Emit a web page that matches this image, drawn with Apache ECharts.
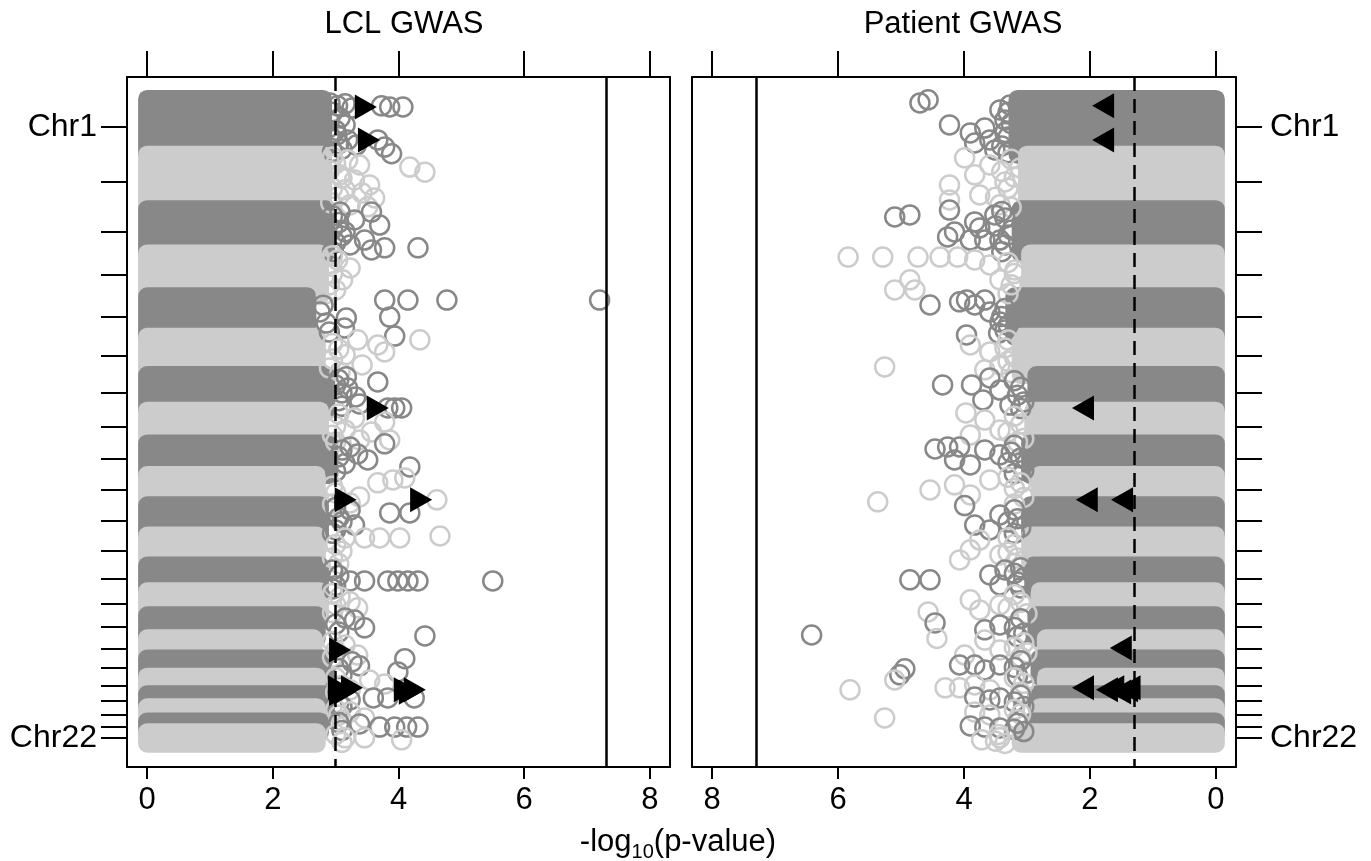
<!DOCTYPE html>
<html>
<head>
<meta charset="utf-8">
<title>LCL GWAS / Patient GWAS</title>
<script src="https://cdn.jsdelivr.net/npm/echarts@6/dist/echarts.min.js"></script>
<style>
html, body { margin: 0; padding: 0; background: #fff; }
#chart { width: 1371px; height: 861px; }
</style>
</head>
<body>
<div id="chart"></div>
<script>
'use strict';

// chromosome sizes in Mb (hg19)
var chromNames = ['Chr1', 'Chr2', 'Chr3', 'Chr4', 'Chr5', 'Chr6', 'Chr7', 'Chr8', 'Chr9', 'Chr10', 'Chr11',
    'Chr12', 'Chr13', 'Chr14', 'Chr15', 'Chr16', 'Chr17', 'Chr18', 'Chr19', 'Chr20', 'Chr21', 'Chr22'];
var chromLengths = [249.25, 243.2, 198.0, 191.2, 180.9, 171.1, 159.1, 146.4, 141.2, 135.5, 135.0,
    133.9, 115.2, 107.3, 102.5, 90.4, 81.2, 78.1, 59.1, 63.0, 48.1, 51.3];

// -log10(p) reached by the dense bulk of SNPs in each chromosome
var lclBulkMax = [2.8, 2.8, 2.85, 2.75, 2.55, 2.7, 2.85, 2.75, 2.9, 2.7, 2.75,
    2.7, 2.75, 2.75, 2.7, 2.65, 2.8, 2.7, 2.85, 2.7, 2.75, 2.7];
var patientBulkMax = [3.15, 3.0, 3.1, 2.95, 3.2, 3.1, 2.85, 2.9, 2.95, 2.8, 2.95,
    2.95, 2.9, 2.8, 2.85, 2.7, 2.8, 2.7, 2.85, 2.8, 2.9, 3.1];

// [chromosome, position Mb, -log10(p)] : SNPs crowding the edge of the bulk
var lclNearBulk = [
    [1, 60, 2.95], [1, 100, 2.9], [1, 140, 3.0], [1, 170, 2.92], [1, 200, 3.05], [1, 235, 2.95],
    [2, 10, 2.95], [2, 40, 3.0], [2, 70, 2.9], [2, 105, 3.1], [2, 150, 2.95], [2, 185, 3.05], [2, 215, 2.92],
    [3, 30, 2.95], [3, 60, 3.05], [3, 90, 2.95], [3, 120, 3.1], [3, 150, 3.0], [3, 190, 2.95],
    [4, 10, 2.95], [4, 45, 2.9], [4, 90, 2.95], [4, 140, 2.9], [4, 180, 2.85],
    [5, 40, 2.8], [5, 70, 2.75], [5, 120, 2.85], [5, 160, 2.9],
    [6, 30, 2.95], [6, 55, 3.05], [6, 100, 2.95], [6, 140, 2.9],
    [7, 20, 3.05], [7, 45, 3.0], [7, 80, 3.1], [7, 115, 3.05], [7, 140, 3.1],
    [8, 15, 3.05], [8, 70, 3.0], [8, 110, 2.95], [8, 140, 3.0],
    [9, 30, 3.1], [9, 60, 3.05], [9, 90, 3.15], [9, 125, 3.0],
    [10, 50, 2.95], [10, 80, 3.0], [10, 130, 2.95],
    [11, 10, 3.0], [11, 55, 3.05], [11, 75, 3.1], [11, 110, 3.0], [11, 125, 2.95],
    [12, 40, 3.0], [12, 70, 3.1], [12, 100, 2.95], [12, 125, 3.05],
    [13, 20, 2.95], [13, 45, 3.05], [13, 90, 3.0], [13, 105, 2.95],
    [14, 10, 2.95], [14, 60, 3.0], [14, 95, 2.95],
    [15, 40, 3.0], [15, 75, 3.05],
    [16, 15, 2.95], [16, 55, 3.0], [16, 85, 2.95],
    [17, 45, 3.05], [17, 75, 3.1],
    [18, 5, 3.0], [18, 40, 3.1], [18, 70, 3.0],
    [19, 40, 3.05], [19, 55, 3.1],
    [20, 10, 3.0], [20, 35, 3.05], [20, 58, 3.1],
    [21, 5, 3.05], [21, 40, 3.1],
    [22, 10, 3.0], [22, 45, 3.1]
];

var lclOutliers = [
    [1, 18, 2.91], [1, 31, 3.03], [1, 22, 3.15], [1, 40, 3.26], [1, 31, 3.73], [1, 36, 3.86], [1, 36, 4.07],
    [1, 85, 3.07], [1, 116, 3.15], [1, 161, 3.02], [1, 183, 3.19], [1, 183, 3.67], [1, 215, 3.78],
    [1, 245, 3.89], [1, 224, 3.1], [1, 206, 3.33],
    [2, 23, 3.19], [2, 46, 3.38], [2, 55, 4.18], [2, 78, 4.42], [2, 90, 3.07], [2, 113, 3.3], [2, 135, 3.54],
    [2, 157, 3.15], [2, 171, 3.42], [2, 193, 3.62], [2, 224, 3.23], [2, 233, 3.51],
    [3, 13, 3.07], [3, 13, 3.57], [3, 48, 3.3], [3, 71, 3.7], [3, 102, 3.15], [3, 138, 3.46], [3, 160, 3.23],
    [3, 173, 3.78], [3, 173, 4.31], [3, 182, 3.57],
    [4, 29, 3.03], [4, 65, 3.23], [4, 118, 3.11], [4, 163, 3.0],
    [5, 17, 3.78], [5, 17, 4.15], [5, 17, 4.77], [5, 17, 7.2], [5, 97, 3.17], [5, 93, 3.86], [5, 142, 3.14],
    [5, 178, 3.94],
    [6, 14, 3.35], [6, 14, 4.34], [6, 37, 3.67], [6, 68, 3.78], [6, 81, 3.15], [6, 126, 3.42], [6, 157, 3.07],
    [7, 8, 3.17], [7, 31, 3.67], [7, 58, 3.19], [7, 98, 3.32], [7, 129, 3.38], [7, 147, 3.94], [7, 147, 4.05],
    [7, 147, 3.83],
    [8, 33, 3.3], [8, 51, 3.78], [8, 86, 3.15], [8, 95, 3.57], [8, 131, 3.38], [8, 131, 3.86],
    [9, 2, 3.78], [9, 16, 3.23], [9, 47, 3.35], [9, 74, 3.51], [9, 105, 4.18],
    [10, 13, 4.1], [10, 22, 3.91], [10, 35, 3.67], [10, 98, 3.38], [10, 111, 4.61], [10, 125, 3.23],
    [11, 21, 3.23], [11, 34, 3.86], [11, 34, 4.18], [11, 88, 3.3],
    [12, 11, 3.15], [12, 11, 3.46], [12, 11, 3.7], [12, 11, 4.02], [12, 2, 4.66],
    [13, 69, 3.23], [13, 69, 3.46], [13, 69, 3.83], [13, 69, 3.99], [13, 69, 4.15], [13, 69, 4.31], [13, 69, 5.5],
    [14, 25, 3.07], [14, 47, 3.23], [14, 74, 3.35],
    [15, 12, 3.15], [15, 21, 3.3], [15, 56, 3.46], [15, 92, 4.42],
    [16, 30, 3.15], [16, 75, 3.35],
    [17, 1, 4.1], [17, 15, 3.26], [17, 33, 3.38], [17, 60, 3.99],
    [18, 15, 3.54], [18, 33, 3.78], [18, 59, 3.23],
    [19, 17, 3.6], [19, 17, 3.83], [19, 17, 4.25], [19, 26, 3.23],
    [20, 20, 3.23], [20, 47, 3.46],
    [21, 11, 3.38], [21, 25, 3.7], [21, 25, 3.94], [21, 25, 4.13], [21, 25, 4.31],
    [22, 25, 3.15], [22, 25, 3.46], [22, 34, 4.05]
];

var patientNearBulk = [
    [1, 60, 3.3], [1, 110, 3.25], [1, 150, 3.35], [1, 170, 3.3], [1, 210, 3.4], [1, 240, 3.3],
    [2, 20, 3.25], [2, 75, 3.4], [2, 100, 3.2], [2, 150, 3.3], [2, 190, 3.5], [2, 235, 3.25],
    [3, 10, 3.4], [3, 40, 3.35], [3, 75, 3.5], [3, 115, 3.3], [3, 160, 3.35], [3, 190, 3.4],
    [4, 40, 3.3], [4, 90, 3.2], [4, 140, 3.25], [4, 180, 3.3],
    [5, 55, 3.35], [5, 90, 3.4], [5, 130, 3.3], [5, 165, 3.45],
    [6, 15, 3.3], [6, 50, 3.35], [6, 90, 3.2], [6, 110, 3.3], [6, 160, 3.25],
    [7, 25, 3.2], [7, 55, 3.1], [7, 90, 3.15], [7, 120, 3.05], [7, 150, 3.1],
    [8, 25, 3.2], [8, 60, 3.1], [8, 95, 3.3], [8, 125, 3.05], [8, 140, 3.15],
    [9, 8, 3.2], [9, 40, 3.25], [9, 65, 3.1], [9, 85, 3.3], [9, 120, 3.05], [9, 135, 3.2],
    [10, 10, 3.3], [10, 35, 3.1], [10, 60, 3.2], [10, 100, 3.05], [10, 130, 3.2],
    [11, 20, 3.2], [11, 60, 3.15], [11, 75, 3.3], [11, 100, 3.1], [11, 125, 3.2],
    [12, 10, 3.3], [12, 40, 3.2], [12, 75, 3.3], [12, 100, 3.15], [12, 125, 3.2],
    [13, 10, 3.1], [13, 35, 3.2], [13, 55, 3.05], [13, 75, 3.15], [13, 100, 3.1],
    [14, 15, 3.2], [14, 50, 3.1], [14, 75, 3.3], [14, 100, 3.0],
    [15, 15, 3.1], [15, 55, 3.2], [15, 80, 3.05], [15, 95, 3.15],
    [16, 20, 3.05], [16, 40, 3.2], [16, 65, 3.0], [16, 85, 3.1],
    [17, 10, 3.1], [17, 40, 3.2], [17, 65, 3.0], [17, 78, 3.15],
    [18, 5, 3.2], [18, 30, 3.05], [18, 70, 3.1],
    [19, 5, 3.1], [19, 35, 3.2], [19, 55, 3.05],
    [20, 10, 3.2], [20, 30, 3.1], [20, 55, 3.15],
    [21, 8, 3.15], [21, 35, 3.2], [21, 45, 3.05],
    [22, 10, 3.45], [22, 40, 3.5], [22, 50, 3.35]
];

var patientOutliers = [
    [1, 18, 4.7], [1, 4, 4.57], [1, 116, 4.23], [1, 152, 3.9], [1, 130, 3.67], [1, 49, 3.43], [1, 94, 3.35],
    [1, 183, 3.59], [1, 197, 3.83], [1, 228, 3.51], [1, 27, 3.27],
    [2, 14, 3.99], [2, 46, 3.59], [2, 90, 3.83], [2, 135, 4.23], [2, 122, 3.35], [2, 202, 4.23], [2, 180, 3.75],
    [2, 224, 3.43], [2, 59, 3.11],
    [3, 35, 5.1], [3, 26, 4.86], [3, 4, 4.23], [3, 57, 3.83], [3, 84, 3.75], [3, 26, 3.51], [3, 102, 4.15],
    [3, 124, 4.26], [3, 138, 3.9], [3, 138, 3.67], [3, 138, 3.43], [3, 93, 3.24],
    [4, 16, 5.84], [4, 16, 5.29], [4, 16, 4.73], [4, 16, 4.38], [4, 16, 4.1], [4, 29, 3.83], [4, 51, 3.59],
    [4, 118, 4.86], [4, 163, 4.78], [4, 163, 5.1], [4, 118, 3.43], [4, 74, 3.19],
    [5, 39, 4.54], [5, 25, 4.07], [5, 17, 3.96], [5, 39, 3.83], [5, 17, 3.67], [5, 70, 3.59], [5, 115, 3.43],
    [5, 173, 3.96], [5, 151, 3.35],
    [6, 37, 3.9], [6, 68, 3.59], [6, 126, 3.43], [6, 148, 3.67], [6, 135, 5.26],
    [7, 44, 4.34], [7, 44, 3.88], [7, 13, 3.59], [7, 67, 3.43], [7, 111, 3.7], [7, 134, 3.27],
    [8, 10, 3.97], [8, 42, 3.67], [8, 109, 3.9], [8, 86, 3.43],
    [9, 25, 4.46], [9, 16, 4.26], [9, 16, 4.07], [9, 74, 4.15], [9, 96, 3.9], [9, 29, 3.67], [9, 51, 3.43],
    [10, 67, 4.54], [10, 44, 4.15], [10, 89, 3.9], [10, 120, 5.37], [10, 22, 3.59],
    [11, 1, 3.99], [11, 88, 3.83], [11, 110, 3.59], [11, 43, 3.43],
    [12, 20, 3.75], [12, 64, 3.9], [12, 109, 4.07], [12, 87, 3.43],
    [13, 64, 4.86], [13, 64, 4.54], [13, 42, 3.59], [13, 87, 3.43], [13, 20, 3.35],
    [14, 92, 4.57], [14, 38, 3.9], [14, 83, 3.75], [14, 61, 3.43],
    [15, 34, 4.46], [15, 88, 6.42], [15, 43, 3.43], [15, 65, 3.67],
    [16, 1, 4.43], [16, 8, 3.67], [16, 52, 3.43], [16, 75, 3.99],
    [17, 46, 4.94], [17, 73, 5.02], [17, 29, 4.07], [17, 29, 3.83], [17, 51, 3.67], [17, 29, 3.43],
    [18, 59, 5.81], [18, 15, 5.1], [18, 50, 4.3], [18, 50, 4.07], [18, 37, 3.83], [18, 59, 3.59],
    [19, 13, 3.83], [19, 26, 3.59], [19, 17, 3.43],
    [20, 47, 5.26], [20, 21, 3.83], [20, 34, 3.59],
    [21, 20, 3.9], [21, 25, 3.67], [21, 29, 3.43],
    [22, 34, 3.72], [22, 25, 3.43]
];

// highlighted SNPs (black triangles)
var lclHits = [
    [1, 36, 3.48], [1, 183, 3.53], [7, 147, 3.67], [10, 111, 3.16], [10, 111, 4.36], [16, 52, 3.07],
    [18, 50, 3.05], [18, 68, 3.15], [18, 50, 3.26], [18, 75, 3.07], [18, 59, 4.1], [18, 59, 4.26], [18, 70, 4.18]
];
var patientHits = [
    [1, 31, 1.79], [1, 183, 1.79], [7, 147, 2.11], [10, 111, 2.05], [10, 111, 1.49], [16, 43, 1.51],
    [18, 50, 2.11], [18, 59, 1.73], [18, 50, 1.63], [18, 68, 1.52], [18, 59, 1.41], [18, 50, 1.37]
];

var lclSuggestive = 3;
var patientSuggestive = 1.3;
var genomeWide = 7.3;
var xTicks = [0, 2, 4, 6, 8];

var DARK = '#888888';
var LIGHT = '#cccccc';
var FONT = 'Liberation Sans';
var Y_MIN = -98, Y_MAX = 2985;
var X_MIN = -0.32, X_MAX = 8.32;

var chromStart = [];
var chromMid = [];
(function() {
    var acc = 0;
    for (var i = 0; i < chromLengths.length; i++) {
        chromStart.push(acc);
        chromMid.push(acc + chromLengths[i] / 2);
        acc += chromLengths[i];
    }
})();

function chromColor(chr) {
    return chr % 2 === 1 ? DARK : LIGHT;
}

function bandData(bulkMax) {
    var out = [];
    for (var i = 0; i < chromLengths.length; i++) {
        out.push([0, bulkMax[i], chromStart[i], chromStart[i] + chromLengths[i], i]);
    }
    return out;
}

function circleData(list) {
    // plotted chromosome by chromosome, like the original
    var sorted = list.slice().sort(function(a, b) { return a[0] - b[0]; });
    return sorted.map(function(d) {
        return {
            value: [d[2], chromStart[d[0] - 1] + d[1]],
            itemStyle: { borderColor: chromColor(d[0]) }
        };
    });
}

function hitData(list) {
    return list.map(function(d) {
        return [d[2], chromStart[d[0] - 1] + d[1]];
    });
}

function renderBand(params, api) {
    var r = 9;
    var a = api.coord([api.value(0), api.value(2)]);
    var b = api.coord([api.value(1), api.value(3)]);
    var x = Math.min(a[0], b[0]) - r;
    var y = Math.min(a[1], b[1]) - r;
    return {
        type: 'rect',
        shape: { x: x, y: y, width: Math.abs(b[0] - a[0]) + 2 * r, height: Math.abs(b[1] - a[1]) + 2 * r, r: r },
        style: { fill: api.value(4) % 2 === 0 ? DARK : LIGHT }
    };
}

var axisLineStyle = { color: '#000', width: 2 };

function xAxisFor(grid, pos, inverse) {
    var bottom = pos === 'bottom';
    return {
        type: 'value', gridIndex: grid, position: pos, inverse: inverse,
        min: X_MIN, max: X_MAX,
        axisLine: { show: true, onZero: false, lineStyle: axisLineStyle },
        axisTick: { show: true, customValues: xTicks, length: bottom ? 12 : 26, lineStyle: axisLineStyle },
        axisLabel: {
            show: bottom, customValues: xTicks, margin: 18,
            fontSize: 31, fontFamily: FONT, color: '#000'
        },
        splitLine: { show: false }
    };
}

function yAxisFor(grid, pos, withTicks) {
    return {
        type: 'value', gridIndex: grid, position: pos, inverse: true,
        min: Y_MIN, max: Y_MAX,
        axisLine: { show: true, onZero: false, lineStyle: axisLineStyle },
        axisTick: { show: withTicks, customValues: chromMid, length: 26, lineStyle: axisLineStyle },
        axisLabel: {
            show: withTicks,
            customValues: [chromMid[0], chromMid[chromMid.length - 1]],
            formatter: function(v) {
                return Math.abs(v - chromMid[0]) < 1 ? chromNames[0] : chromNames[chromNames.length - 1];
            },
            margin: pos === 'left' ? 30 : 34,
            fontSize: 32, fontFamily: FONT, color: '#000'
        },
        splitLine: { show: false }
    };
}

function refLines(suggestive) {
    return {
        silent: true,
        symbol: ['none', 'none'],
        label: { show: false },
        lineStyle: { color: '#000', width: 2.5 },
        data: [
            { xAxis: suggestive, lineStyle: { type: [14, 8], color: '#000', width: 2.5 } },
            { xAxis: genomeWide, lineStyle: { type: 'solid', color: '#000', width: 2.5 } }
        ]
    };
}

function panelSeries(xi, yi, bulkMax, circles, hits, suggestive, rotate) {
    return [
        {
            type: 'custom', xAxisIndex: xi, yAxisIndex: yi,
            renderItem: renderBand, clip: false,
            encode: { x: [0, 1], y: [2, 3] },
            data: bandData(bulkMax), z: 1
        },
        {
            type: 'scatter', xAxisIndex: xi, yAxisIndex: yi,
            symbol: 'circle', symbolSize: 19,
            itemStyle: { color: 'rgba(0,0,0,0)', borderWidth: 2.5, opacity: 1 },
            data: circleData(circles), z: 2
        },
        {
            type: 'scatter', xAxisIndex: xi, yAxisIndex: yi,
            symbol: 'triangle', symbolSize: [25, 22], symbolRotate: rotate,
            itemStyle: { color: '#000', opacity: 1 },
            data: hitData(hits), z: 3,
            markLine: refLines(suggestive)
        }
    ];
}

var chart = echarts.init(document.getElementById('chart'), null, { renderer: 'canvas' });

chart.setOption({
    animation: false,
    backgroundColor: '#fff',
    grid: [
        { left: 127, top: 77, width: 543, height: 690 },
        { left: 692, top: 77, width: 544, height: 690 }
    ],
    xAxis: [
        xAxisFor(0, 'bottom', false),
        xAxisFor(0, 'top', false),
        xAxisFor(1, 'bottom', true),
        xAxisFor(1, 'top', true)
    ],
    yAxis: [
        yAxisFor(0, 'left', true),
        yAxisFor(0, 'right', false),
        yAxisFor(1, 'right', true),
        yAxisFor(1, 'left', false)
    ],
    series: panelSeries(0, 0, lclBulkMax, lclNearBulk.concat(lclOutliers), lclHits, lclSuggestive, -90)
        .concat(panelSeries(2, 2, patientBulkMax, patientNearBulk.concat(patientOutliers), patientHits, patientSuggestive, 90)),
    graphic: [
        {
            type: 'text', x: 404, y: 24,
            style: { text: 'LCL GWAS', fontSize: 31, fontFamily: FONT, fill: '#000', align: 'center', verticalAlign: 'middle' }
        },
        {
            type: 'text', x: 963, y: 24,
            style: { text: 'Patient GWAS', fontSize: 31, fontFamily: FONT, fill: '#000', align: 'center', verticalAlign: 'middle' }
        },
        {
            type: 'text', x: 678, y: 842,
            style: {
                text: '{a|-log}{b|10}{a|(p-value)}',
                align: 'center', verticalAlign: 'middle', fill: '#000',
                rich: {
                    a: { fontSize: 31, fontFamily: FONT, lineHeight: 40, verticalAlign: 'middle', fill: '#000' },
                    b: { fontSize: 20, fontFamily: FONT, lineHeight: 20, verticalAlign: 'bottom', fill: '#000' }
                }
            }
        }
    ]
});
</script>
</body>
</html>
